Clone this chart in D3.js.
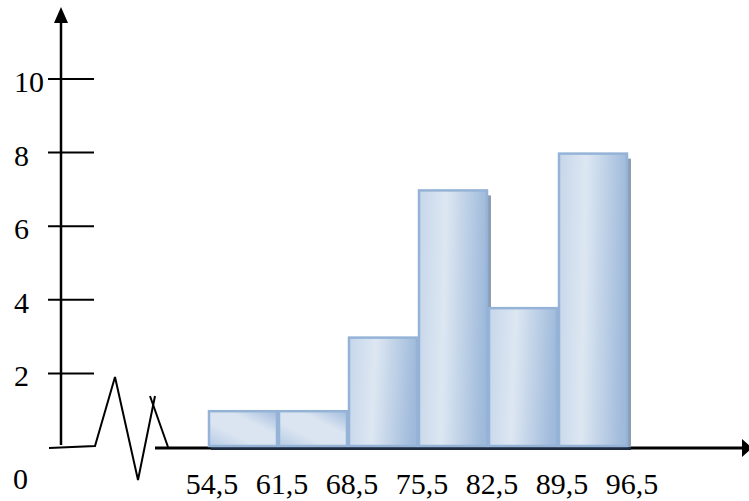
<!DOCTYPE html>
<html>
<head>
<meta charset="utf-8">
<script src="https://cdn.jsdelivr.net/npm/d3@7"></script>
<style>
  html, body { margin: 0; padding: 0; background: #ffffff; }
  svg { display: block; }
  text { font-family: "Liberation Serif", "Times New Roman", serif; fill: #000; }
</style>
</head>
<body>
<svg id="chart" width="749" height="501"></svg>
<script>
// ---- data ----
const binEdges = [54.5, 61.5, 68.5, 75.5, 82.5, 89.5, 96.5];
const frequencies = [1, 1, 3, 7, 3.8, 8];
const xTickLabels = ["54,5", "61,5", "68,5", "75,5", "82,5", "89,5", "96,5"];
const yTickValues = [2, 4, 6, 8, 10];
const originLabel = "0";

// ---- setup ----
const svg = d3.select("#chart");

const x = d3.scaleLinear().domain([54.5, 96.5]).range([208, 628]);
const y = d3.scaleLinear().domain([0, 10]).range([447, 79]);

const defs = svg.append("defs");
const tall = defs.append("linearGradient").attr("id", "gTall")
  .attr("x1", "0").attr("y1", "0").attr("x2", "1").attr("y2", "0.08");
tall.append("stop").attr("offset", "0%").attr("stop-color", "#c6d6ea");
tall.append("stop").attr("offset", "40%").attr("stop-color", "#dde7f2");
tall.append("stop").attr("offset", "100%").attr("stop-color", "#9fbadb");

const flat = defs.append("linearGradient").attr("id", "gFlat")
  .attr("x1", "0").attr("y1", "1").attr("x2", "1").attr("y2", "0");
flat.append("stop").attr("offset", "0%").attr("stop-color", "#b6cbe5");
flat.append("stop").attr("offset", "35%").attr("stop-color", "#dbe5f1");
flat.append("stop").attr("offset", "65%").attr("stop-color", "#dbe5f1");
flat.append("stop").attr("offset", "100%").attr("stop-color", "#a3bcdd");

const bins = frequencies.map((v, i) => ({ x0: binEdges[i], x1: binEdges[i + 1], v }));

// ---- x axis line (with break) ----
svg.append("line")
  .attr("x1", 155).attr("x2", 742).attr("y1", y(0) + 1).attr("y2", y(0) + 1)
  .attr("stroke", "#000").attr("stroke-width", 3);
svg.append("path")
  .attr("d", "M742,439 L752,448 L742,457 Z").attr("fill", "#000");

// break squiggle
svg.append("path")
  .attr("d", "M49,448 L95,446 L115,377 L138,480 L155,396")
  .attr("fill", "none").attr("stroke", "#000").attr("stroke-width", 2);
svg.append("path")
  .attr("d", "M150,396 L168,447")
  .attr("fill", "none").attr("stroke", "#000").attr("stroke-width", 2);

// ---- y axis ----
svg.append("line")
  .attr("x1", 61).attr("x2", 61).attr("y1", 445).attr("y2", 20)
  .attr("stroke", "#000").attr("stroke-width", 2.5);
svg.append("path")
  .attr("d", "M61,7 L68,23 L54,23 Z").attr("fill", "#000");

const yt = svg.append("g");
yt.selectAll("line").data(yTickValues).join("line")
  .attr("x1", 48).attr("x2", 94)
  .attr("y1", d => y(d)).attr("y2", d => y(d))
  .attr("stroke", "#000").attr("stroke-width", 2);
yt.selectAll("text").data(yTickValues).join("text")
  .attr("x", 14).attr("y", d => y(d) + 13)
  .attr("font-size", 30)
  .text(d => d);

svg.append("text").attr("x", 13).attr("y", 489).attr("font-size", 30).text(originLabel);

// ---- bars ----
const bw = d => x(d.x1) - x(d.x0);
svg.append("g").selectAll("rect").data(bins).join("rect")
  .attr("x", d => x(d.x0) + 3).attr("width", d => bw(d))
  .attr("y", y(0)).attr("height", 3)
  .attr("fill", "#1f2c40");
svg.append("g").selectAll("rect").data(bins).join("rect")
  .attr("x", d => x(d.x0) + 3).attr("width", d => bw(d))
  .attr("y", d => y(d.v) + 6).attr("height", d => y(0) - y(d.v) - 6)
  .attr("fill", "#8d9db4");
svg.append("g").selectAll("rect").data(bins).join("rect")
  .attr("x", d => x(d.x0) + 1).attr("width", d => bw(d) - 2)
  .attr("y", d => y(d.v) + 1).attr("height", d => y(0) - y(d.v) - 2)
  .attr("fill", d => d.v >= 2.5 ? "url(#gTall)" : "url(#gFlat)")
  .attr("stroke", "#95b3d7").attr("stroke-width", 2.5);

// ---- x tick labels ----
svg.append("g").selectAll("text").data(binEdges).join("text")
  .attr("x", d => x(d) + 4).attr("y", 494)
  .attr("text-anchor", "middle").attr("font-size", 30)
  .text((d, i) => xTickLabels[i]);
</script>
</body>
</html>
